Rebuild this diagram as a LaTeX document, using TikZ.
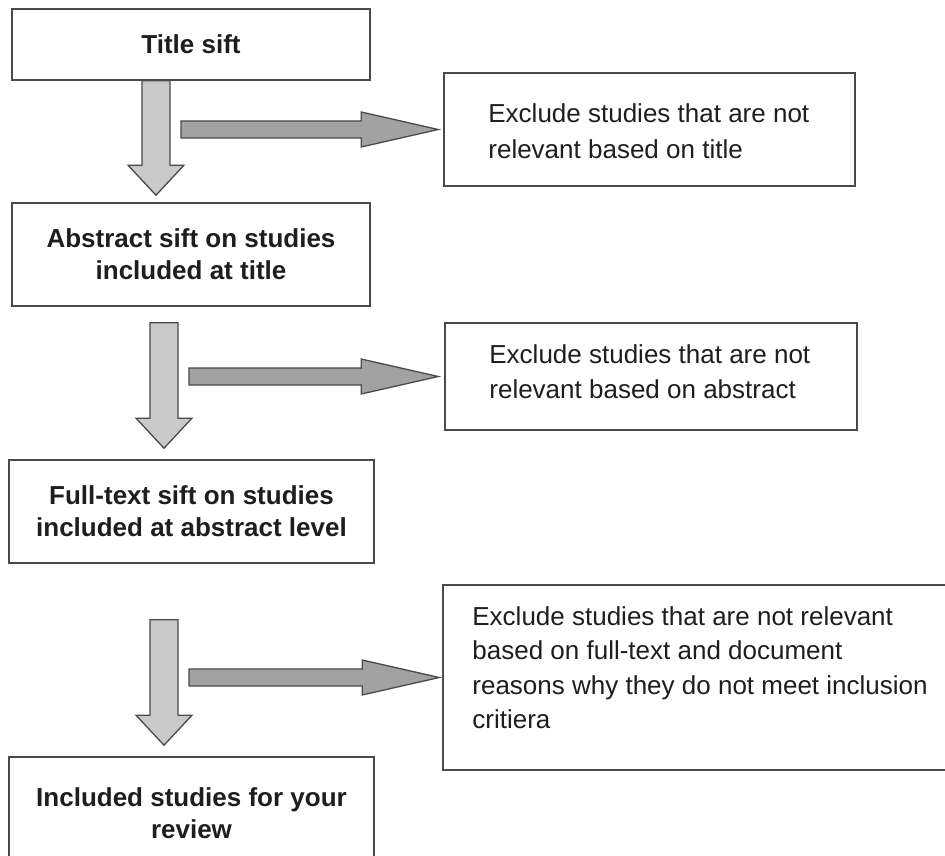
\documentclass[tikz,border=0pt]{standalone}
\usepackage{fontspec}
\setmainfont{Liberation Sans}
\usetikzlibrary{calc}

\definecolor{edge}{HTML}{4A4A4A}
\definecolor{ink}{HTML}{1E1E1E}
\definecolor{downfill}{HTML}{C9C9C9}
\definecolor{sidefill}{HTML}{A2A2A2}

% Broad downward arrow from a start point (top of shaft) to a tip
\newcommand{\blockdown}[2]{%
  \draw[downarrow] let \p1=(#1), \p2=(#2) in
    (\x1-14pt,\y1) -- (\x1+14pt,\y1) -- (\x1+14pt,\y2+30pt) -- (\x1+28pt,\y2+30pt)
    -- (\x1,\y2) -- (\x1-28pt,\y2+30pt) -- (\x1-14pt,\y2+30pt) -- cycle;}

% Broad rightward arrow from the left end of its shaft to a tip
\newcommand{\blockright}[2]{%
  \draw[sidearrow] let \p1=(#1), \p2=(#2) in
    (\x1,\y2+8.5pt) -- (\x2-77pt,\y2+8.5pt) -- (\x2-77pt,\y2+17.5pt) -- (\x2,\y2)
    -- (\x2-77pt,\y2-17.5pt) -- (\x2-77pt,\y2-8.5pt) -- (\x1,\y2-8.5pt) -- cycle;}

\begin{document}
\begin{tikzpicture}[x=1pt,y=-1pt,
  stage/.style={draw=edge, line width=1.6pt, fill=white, align=center, inner sep=0pt,
    text=ink, font=\fontsize{26}{32}\selectfont\bfseries},
  note/.style={draw=edge, line width=1.6pt, fill=white, inner sep=0pt},
  notetext/.style={anchor=west, align=left, inner sep=0pt, text=ink,
    font=\fontsize{26}{35.5}\selectfont},
  downarrow/.style={draw=edge, line width=1.3pt, fill=downfill, line join=miter},
  sidearrow/.style={draw=edge, line width=1.3pt, fill=sidefill, line join=miter},
]
\useasboundingbox (0,0) rectangle (945,856);

% Sifting stages on the left
\node[stage, minimum width=358pt, minimum height=71pt]  (title)    at (191,44.5)   {Title sift};
\node[stage, minimum width=358pt, minimum height=103pt] (abstract) at (191,254.5)  {Abstract sift on studies\\included at title};
\node[stage, minimum width=365pt, minimum height=103pt] (fulltext) at (191.5,511.5) {Full-text sift on studies\\included at abstract level};
\node[stage, minimum width=365pt, minimum height=140pt, text depth=27pt] (included) at (191.5,827) {Included studies for your\\review};

% Exclusion notes on the right
\node[note, minimum width=411pt, minimum height=113pt] (exTitle)    at (649.5,129.5) {};
\node[note, minimum width=412pt, minimum height=107pt] (exAbstract) at (651,376.5)   {};
\node[note, minimum width=540pt, minimum height=185pt] (exFull)     at (713,677.5)   {};

\node[notetext] (exTitleText)    at ($(exTitle.west)+(45,1.5)$)    {Exclude studies that are not\\relevant based on title};
\node[notetext] (exAbstractText) at ($(exAbstract.west)+(45,-5)$)  {Exclude studies that are not\\relevant based on abstract};
\node[notetext, font=\fontsize{26}{34.5}\selectfont] (exFullText) at ($(exFull.west)+(30,-10)$)
  {Exclude studies that are not relevant\\based on full-text and document\\reasons why they do not meet inclusion\\critiera};

% Arrow end points
\coordinate (d1s) at ($(title.south)+(-35,0)$);
\coordinate (d1t) at ($(abstract.north)+(-35,-7)$);
\coordinate (d2s) at ($(abstract.south)+(-27,16)$);
\coordinate (d2t) at ($(fulltext.north)+(-27.5,-11)$);
\coordinate (d3s) at ($(fulltext.south)+(-27.5,56)$);
\coordinate (d3t) at ($(included.north)+(-27.5,-11)$);

\coordinate (r1s) at ($(d1s)+(25,0)$);
\coordinate (r1t) at ($(exTitle.west)+(-5,0)$);
\coordinate (r2s) at ($(d2s)+(25,0)$);
\coordinate (r2t) at ($(exAbstract.west)+(-6,0)$);
\coordinate (r3s) at ($(d3s)+(25,0)$);
\coordinate (r3t) at ($(exFull.west)+(-3,0)$);

% Flow arrows
\blockdown{d1s}{d1t}
\blockdown{d2s}{d2t}
\blockdown{d3s}{d3t}
\blockright{r1s}{r1t}
\blockright{r2s}{r2t}
\blockright{r3s}{r3t}
\end{tikzpicture}
\end{document}
